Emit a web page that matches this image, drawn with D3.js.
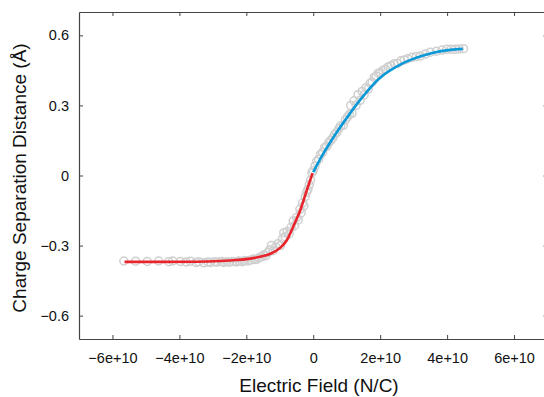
<!DOCTYPE html>
<html>
<head>
<meta charset="utf-8">
<script src="https://cdn.jsdelivr.net/npm/d3@7"></script>
<style>
  html, body { margin: 0; padding: 0; background: #fff; }
  svg { display: block; font-family: "Liberation Sans", Arial, Helvetica, sans-serif; }
</style>
</head>
<body>
<div id="chart"></div>
<script>
// field values in units of 1e10 N/C, distances in Å
const xTicks = [-6, -4, -2, 0, 2, 4, 6];
const yTicks = [-0.6, -0.3, 0, 0.3, 0.6];

const simField = [
  -5.66, -5.31, -4.96, -4.62, -4.32, -4.20, -3.97, -3.80, -3.67, -3.50,
  -3.42, -3.27, -3.15, -3.07, -2.95, -2.87, -2.75, -2.68, -2.58, -2.50,
  -2.40, -2.30, -2.22, -2.12, -2.05, -1.95, -1.86, -1.78, -1.70, -1.62,
  -1.55, -1.48, -1.42, -1.36, -1.30, -1.25, -1.20, -1.12, -1.05, -0.98,
  -0.92, -0.88, -0.84, -0.78, -0.72, -0.66, -0.60, -0.56, -0.50, -0.45,
  -0.40, -0.36, -0.32, -0.28, -0.24, -0.20, -0.16, -0.12, -0.08, -0.04,
  0.00, 0.05, 0.10, 0.16, 0.22, 0.28, 0.34, 0.40, 0.46, 0.52,
  0.58, 0.64, 0.70, 0.76, 0.82, 0.90, 0.96, 1.02, 1.08, 1.12,
  1.16, 1.22, 1.28, 1.34, 1.40, 1.46, 1.52, 1.58, 1.64, 1.70,
  1.76, 1.82, 1.88, 1.94, 2.00, 2.08, 2.16, 2.24, 2.32, 2.42,
  2.52, 2.62, 2.72, 2.82, 2.95, 3.08, 3.20, 3.35, 3.50, 3.68,
  3.85, 3.99, 4.12, 4.24, 4.36, 4.49
];
const simDist = [
  -0.366, -0.367, -0.368, -0.366, -0.369, -0.366, -0.368, -0.370, -0.367, -0.372,
  -0.369, -0.374, -0.370, -0.372, -0.369, -0.371, -0.368, -0.372, -0.369, -0.371,
  -0.368, -0.370, -0.366, -0.369, -0.364, -0.366, -0.362, -0.358, -0.360, -0.352,
  -0.348, -0.340, -0.344, -0.330, -0.318, -0.300, -0.322, -0.306, -0.292, -0.300,
  -0.270, -0.245, -0.262, -0.240, -0.250, -0.222, -0.195, -0.215, -0.180, -0.190,
  -0.145, -0.160, -0.118, -0.130, -0.090, -0.072, -0.060, -0.040, -0.020, 0.012,
  0.020, 0.040, 0.060, 0.070, 0.090, 0.100, 0.120, 0.125, 0.140, 0.150,
  0.160, 0.176, 0.185, 0.200, 0.212, 0.215, 0.238, 0.250, 0.262, 0.300,
  0.266, 0.320, 0.300, 0.346, 0.322, 0.360, 0.345, 0.376, 0.370, 0.395,
  0.400, 0.420, 0.425, 0.438, 0.440, 0.450, 0.455, 0.465, 0.470, 0.478,
  0.480, 0.491, 0.495, 0.500, 0.506, 0.510, 0.512, 0.520, 0.528, 0.532,
  0.537, 0.540, 0.541, 0.541, 0.542, 0.543
];

// fitted curves: negative field (red), positive field (blue)
const negField = [-5.64, -4.5, -3.5, -2.8, -2.3, -1.88, -1.5, -1.28, -0.99, -0.79, -0.59, -0.39, -0.19, -0.02];
const negDist  = [-0.370, -0.370, -0.369, -0.366, -0.362, -0.356, -0.345, -0.335, -0.310, -0.277, -0.216, -0.150, -0.062, 0.010];
const posField = [0.00, 0.21, 0.61, 1.10, 1.35, 1.60, 1.85, 2.10, 2.60, 3.10, 3.59, 4.09, 4.47];
const posDist  = [0.014, 0.071, 0.165, 0.266, 0.314, 0.358, 0.398, 0.430, 0.475, 0.505, 0.526, 0.538, 0.542];

const width = 544, height = 397;
const frame = { top: 12, left: 79, bottom: 339, right: 547.5 };

const svg = d3.select('#chart')
  .append('svg')
  .attr('width', width)
  .attr('height', height);

const x = d3.scaleLinear().domain([-7e10, 7e10]).range([frame.left, frame.right]);
const y = d3.scaleLinear().domain([-0.7, 0.7]).range([frame.bottom, frame.top]);

const fmtX = (v) => (v === 0 ? '0' : d3.format('.0e')(v));
const fmtY = (v) => (v === 0 ? '0' : d3.format('.1f')(v));
const axisColor = '#444';
const tickLen = 4;
const xTickVals = xTicks.map((t) => t * 1e10);

// frame with inward ticks on all sides
const gBottom = svg.append('g')
  .attr('transform', `translate(0,${frame.bottom})`)
  .call(d3.axisBottom(x).tickValues(xTickVals).tickSizeInner(-tickLen).tickSizeOuter(0).tickPadding(14).tickFormat(fmtX));
const gTop = svg.append('g')
  .attr('transform', `translate(0,${frame.top})`)
  .call(d3.axisTop(x).tickValues(xTickVals).tickSizeInner(-tickLen).tickSizeOuter(0).tickFormat(''));
const gLeft = svg.append('g')
  .attr('transform', `translate(${frame.left},0)`)
  .call(d3.axisLeft(y).tickValues(yTicks).tickSizeInner(-tickLen).tickSizeOuter(0).tickPadding(10).tickFormat(fmtY));
const gRight = svg.append('g')
  .attr('transform', `translate(${frame.right},0)`)
  .call(d3.axisRight(y).tickValues(yTicks).tickSizeInner(-tickLen).tickSizeOuter(0).tickFormat(''));

[gBottom, gTop, gLeft, gRight].forEach((g) => {
  g.select('.domain').attr('stroke', axisColor).attr('stroke-width', 1.2);
  g.selectAll('.tick line').attr('stroke', axisColor).attr('stroke-width', 1);
  g.selectAll('.tick text').attr('fill', '#111').style('font-size', '14.5px');
});

// simulation points
const pts = simField.map((f, i) => ({ f: f * 1e10, d: simDist[i] }));
svg.append('g')
  .selectAll('circle')
  .data(pts)
  .join('circle')
  .attr('cx', (p) => x(p.f))
  .attr('cy', (p) => y(p.d))
  .attr('r', 4)
  .attr('fill', 'none')
  .attr('stroke', '#cfcfcf')
  .attr('stroke-width', 1.5);

const line = d3.line()
  .x((p) => x(p[0] * 1e10))
  .y((p) => y(p[1]))
  .curve(d3.curveMonotoneX);

svg.append('path')
  .datum(negField.map((f, i) => [f, negDist[i]]))
  .attr('d', line)
  .attr('fill', 'none')
  .attr('stroke', '#e8232b')
  .attr('stroke-width', 2.6);

svg.append('path')
  .datum(posField.map((f, i) => [f, posDist[i]]))
  .attr('d', line)
  .attr('fill', 'none')
  .attr('stroke', '#0b98d6')
  .attr('stroke-width', 2.6);

// axis titles
svg.append('text')
  .attr('x', 319)
  .attr('y', 392)
  .attr('text-anchor', 'middle')
  .style('font-size', '19px')
  .attr('fill', '#111')
  .text('Electric Field (N/C)');

svg.append('text')
  .attr('transform', 'translate(26,178) rotate(-90)')
  .attr('text-anchor', 'middle')
  .style('font-size', '19px')
  .attr('fill', '#111')
  .text('Charge Separation Distance (Å)');
</script>
</body>
</html>
